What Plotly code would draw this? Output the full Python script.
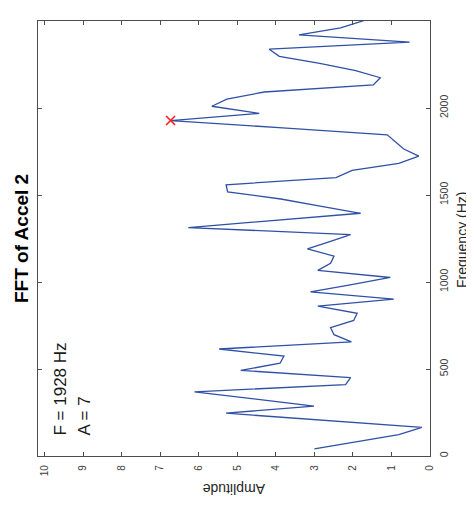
import plotly.graph_objects as go

# Frequency (Hz) of each FFT bin and its amplitude
freqs = [41, 82, 123, 164, 205, 246, 287, 328, 369, 410, 451, 492, 533, 574, 615,
         656, 697, 738, 779, 820, 861, 902, 943, 984, 1026, 1067, 1108, 1149, 1190,
         1231, 1272, 1313, 1354, 1395, 1436, 1477, 1518, 1559, 1600, 1641, 1682,
         1723, 1764, 1805, 1846, 1887, 1928, 1969, 2010, 2051, 2092, 2133, 2174,
         2215, 2256, 2297, 2338, 2379, 2420, 2461, 2502]
amps = [3.00, 1.95, 0.81, 0.21, 2.75, 5.29, 3.01, 4.56, 6.11, 2.19, 2.06, 4.91,
        3.89, 3.79, 5.47, 2.04, 2.49, 2.58, 1.98, 1.89, 2.91, 0.94, 3.10, 2.07,
        1.03, 2.91, 2.58, 2.49, 3.18, 2.62, 2.06, 6.27, 4.03, 1.80, 2.85, 3.87,
        5.25, 5.29, 2.44, 2.02, 0.81, 0.29, 0.68, 0.90, 1.11, 3.92, 6.73, 4.43,
        5.66, 5.27, 4.30, 1.47, 1.29, 1.93, 2.86, 3.91, 4.17, 0.53, 3.40, 2.32, 1.72]

peak_freq = [1928]
peak_amp = [6.73]

amp_ticks = [0, 1, 2, 3, 4, 5, 6, 7, 8, 9, 10]
freq_ticks = [0, 500, 1000, 1500, 2000, 2500]

title_text = "FFT of Accel 2"
xlabel_text = "Frequency (Hz)"
ylabel_text = "Amplitude"
note_f = "F = 1928 Hz"
note_a = "A = 7"

FONT = "Liberation Sans, Arial, Helvetica, sans-serif"
AXC = "#4d4d4d"

# page body has an 8px default margin; plot area targets window px x 38..430, y 21..456
fig = go.Figure()
fig.add_trace(go.Scatter(x=amps, y=freqs, mode="lines",
                         line=dict(color="#2f50a6", width=1.3),
                         hoverinfo="skip", showlegend=False))
fig.add_trace(go.Scatter(x=peak_amp, y=peak_freq, mode="markers",
                         marker=dict(symbol="x-thin", size=9,
                                     line=dict(color="#ff1a1a", width=1.6)),
                         showlegend=False))

fig.update_layout(
    width=466, height=503,
    margin=dict(l=30, r=44, t=13, b=55, pad=0),
    paper_bgcolor="white", plot_bgcolor="white",
    font=dict(family=FONT, color="#404040"),
    xaxis=dict(range=[10.17, 0], tickvals=amp_ticks, ticktext=[str(t) for t in amp_ticks],
               tickangle=-90, ticks="inside", ticklen=4, tickwidth=1, tickcolor=AXC,
               showline=True, linecolor=AXC, linewidth=1.2, mirror="ticks",
               showgrid=False, zeroline=False, automargin=False,
               tickfont=dict(size=10, color="#404040", family=FONT),
               ticklabelstandoff=4),
    yaxis=dict(range=[0, 2500], tickvals=freq_ticks, ticktext=[str(t) for t in freq_ticks],
               side="right", tickangle=-90, ticks="inside", ticklen=4, tickwidth=1,
               tickcolor=AXC, showline=True, linecolor=AXC, linewidth=1.2,
               mirror="ticks", showgrid=False, zeroline=False, automargin=False,
               tickfont=dict(size=10.5, color="#404040", family=FONT),
               ticklabelstandoff=4),
    annotations=[
        dict(text="<b>" + title_text + "</b>", xref="paper", yref="paper",
             x=(22 - 38) / 392, y=(456 - 239) / 435, xanchor="center", yanchor="middle",
             textangle=-90, showarrow=False,
             font=dict(size=19, color="#000000", family=FONT)),
        dict(text=xlabel_text, xref="paper", yref="paper",
             x=(462 - 38) / 392, y=(456 - 240) / 435, xanchor="center", yanchor="middle",
             textangle=-90, showarrow=False,
             font=dict(size=14, color="#262626", family=FONT)),
        dict(text=ylabel_text, xref="paper", yref="paper",
             x=(234 - 38) / 392, y=(456 - 489) / 435, xanchor="center", yanchor="middle",
             textangle=180, showarrow=False,
             font=dict(size=14, color="#262626", family=FONT)),
        dict(text=note_f, xref="paper", yref="paper",
             x=(60 - 38) / 392, y=(456 - 438) / 435, xanchor="center", yanchor="bottom",
             textangle=-90, showarrow=False,
             font=dict(size=17, color="#1a1a1a", family=FONT)),
        dict(text=note_a, xref="paper", yref="paper",
             x=(84 - 38) / 392, y=(456 - 438) / 435, xanchor="center", yanchor="bottom",
             textangle=-90, showarrow=False,
             font=dict(size=17, color="#1a1a1a", family=FONT)),
    ],
)

fig.write_html("out.html")
